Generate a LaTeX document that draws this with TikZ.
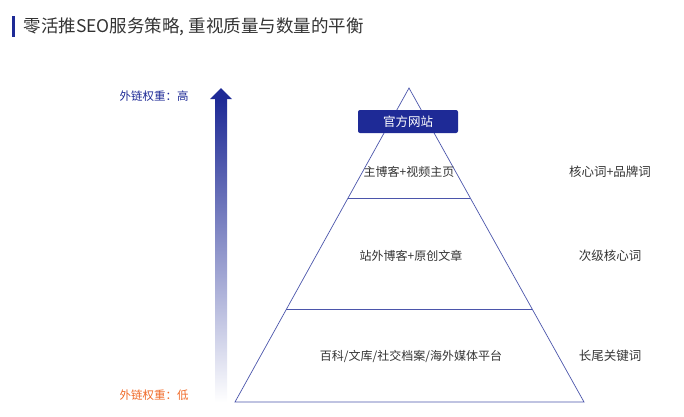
\documentclass[tikz,border=0pt]{standalone}
\usepackage{fontspec}
\newfontfamily\cjk{Noto Sans CJK SC}
\definecolor{seoblue}{HTML}{1E2A96}
\definecolor{seoorange}{HTML}{F06A28}
\definecolor{seogray}{HTML}{333333}
\usetikzlibrary{positioning}
\tikzset{
  tier/.style={font=\cjk\fontsize{12}{14}\selectfont, text=seogray},
  side/.style={font=\cjk\fontsize{12.5}{14}\selectfont, text=seogray},
  edge/.style={draw=seoblue!80, line width=0.7pt}
}
\begin{document}
\begin{tikzpicture}[x=1pt, y=-1pt]
  \useasboundingbox (0,0) rectangle (684,416);
  % title
  \fill[seoblue] (12,16) rectangle (14.5,37);
  \node[anchor=west, font=\cjk\fontsize{17.5}{19}\selectfont, text=seogray] (title) at (20,27) {零活推SEO服务策略, 重视质量与数量的平衡};
  % weight arrow
  \shade[bottom color=white, top color=seoblue] (215,402) rectangle (227,99);
  \fill[seoblue] (210,99) -- (221,88) -- (232,99) -- cycle;
  \node[font=\cjk\fontsize{11.5}{13}\selectfont, text=seoblue] (high) at (154,96) {外链权重：高};
  \node[font=\cjk\fontsize{11.5}{13}\selectfont, text=seoorange] (low) at (154,395) {外链权重：低};
  % pyramid
  \coordinate (apex) at (409,88);
  \coordinate (bl) at (235,402);
  \coordinate (br) at (584,402);
  \draw[edge] (apex) -- (bl) -- (br) -- cycle;
  \draw[edge] (348,198) -- (470,198);
  \draw[edge] (286,309) -- (532,309);
  \node[fill=seoblue, rounded corners=2pt, minimum width=100pt, minimum height=23pt,
        text=white, font=\cjk\fontsize{12.5}{14}\selectfont] (site) at (408,121.5) {官方网站};
  \node[tier] (t1) at (409,172) {主博客+视频主页};
  \node[tier] (t2) at (411,256) {站外博客+原创文章};
  \node[tier] (t3) at (411,356) {百科/文库/社交档案/海外媒体平台};
  \node[side] (s1) at (610,172) {核心词+品牌词};
  \node[side] (s2) at (610,256) {次级核心词};
  \node[side] (s3) at (610,356) {长尾关键词};
\end{tikzpicture}
\end{document}
